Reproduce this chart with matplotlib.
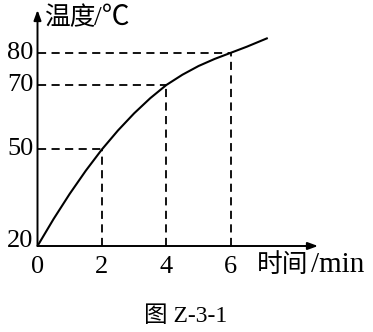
import matplotlib
matplotlib.use("Agg")
import matplotlib.pyplot as plt

# data
time_min = [0, 0.5, 1, 1.5, 2, 2.5, 3, 3.5, 4, 4.5, 5, 5.5, 6, 6.5, 7.15]
temp_c = [20, 28.4, 36.2, 43.4, 50, 55.9, 61.2, 65.9, 70, 73.2, 75.9, 78.1, 80, 81.9, 84.6]
marked_t = [2, 4, 6]
marked_T = [50, 70, 80]
x_ticks = [0, 2, 4, 6]
y_ticks = [20, 50, 70, 80]
x_label_cn, x_label_unit = "时间", "/min"
y_label_cn, y_label_unit = "温度", "/℃"
caption = "图 Z-3-1"

SERIF = ["Liberation Serif", "Noto Sans CJK SC"]
CJK = ["Noto Sans CJK SC", "Liberation Serif"]

W, H = 373, 332
fig = plt.figure(figsize=(W / 100, H / 100), dpi=100)
x0px, y0px = 37.5, 246
xmax, ymax = 8.71, 93.3
ax = fig.add_axes([x0px / W, (H - y0px) / H, (318 - x0px) / W, (y0px - 10) / H])
ax.set_xlim(0, xmax)
ax.set_ylim(20, ymax)
ax.axis("off")


def ftext(xp, yp, s, **kw):
    fig.text(xp / W, 1 - yp / H, s, **kw)


# axes arrows
arrow = dict(arrowstyle="-|>,head_length=0.6,head_width=0.22", color="black", lw=1.4,
             shrinkA=0, shrinkB=0)
ax.annotate("", xy=(xmax, 20), xytext=(0, 20), xycoords="data", arrowprops=arrow,
            annotation_clip=False)
ax.annotate("", xy=(0, ymax), xytext=(0, 20), xycoords="data", arrowprops=arrow,
            annotation_clip=False)

# dashed guides
for t, T in zip(marked_t, marked_T):
    ax.plot([0, t], [T, T], color="black", lw=1.3, ls=(0, (4.5, 3)), clip_on=False)
    ax.plot([t, t], [20, T], color="black", lw=1.3, ls=(0, (4.5, 3)), clip_on=False)

# curve
ax.plot(time_min, temp_c, color="black", lw=1.5, clip_on=False,
        solid_capstyle="butt", solid_joinstyle="round")

fs = 19
for t in x_ticks:
    ax.text(t, 20 - 6.4, str(t), ha="center", va="center", fontsize=fs,
            family=SERIF, clip_on=False)
for T in y_ticks:
    yy = T + 1.6 if T == 20 else T
    ax.text(-0.13, yy, str(T), ha="right", va="center", fontsize=fs,
            family=SERIF, clip_on=False)

ftext(45, 18, y_label_cn, ha="left", va="center", fontsize=18.5, family=CJK)
ftext(94, 18, y_label_unit, ha="left", va="center", fontsize=20, family=SERIF)
ftext(257, 265, x_label_cn, ha="left", va="center", fontsize=18.5, family=CJK)
ftext(311, 265, x_label_unit, ha="left", va="center", fontsize=21, family=SERIF)
ftext(186, 317, caption, ha="center", va="center", fontsize=17, family=SERIF)

fig.savefig("out.png", dpi=100, facecolor="white")
